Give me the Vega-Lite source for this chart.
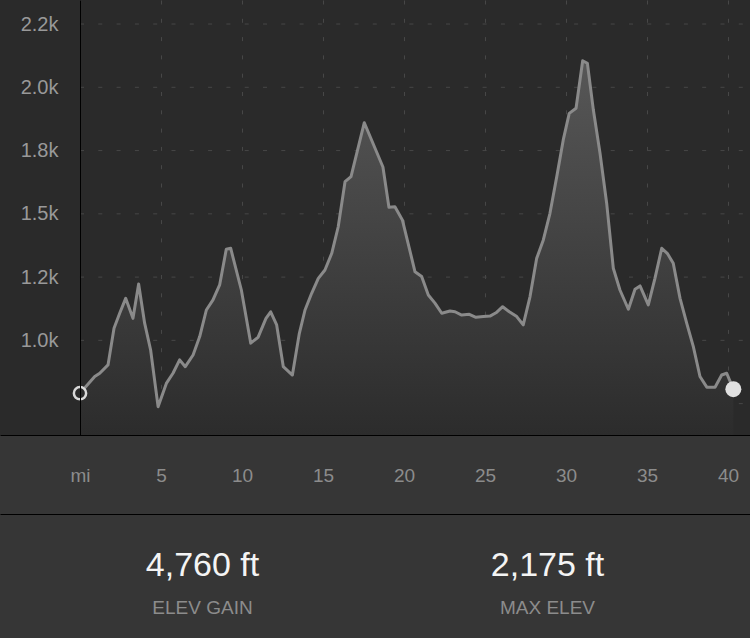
{
  "$schema": "https://vega.github.io/schema/vega-lite/v6.json",
  "autosize": {"type": "pad"},
  "padding": 0,
  "background": "#363636",
  "spacing": 0,
  "config": {"view": {"stroke": null}, "font": "Liberation Sans"},
  "datasets": {
    "profile": [
      {"mile": 0, "elev": 791}, {"mile": 0.91, "elev": 857}, {"mile": 1.22, "elev": 870}, {"mile": 1.73, "elev": 903},
      {"mile": 2.10, "elev": 1048}, {"mile": 2.45, "elev": 1107}, {"mile": 2.82, "elev": 1166}, {"mile": 3.27, "elev": 1087},
      {"mile": 3.62, "elev": 1223}, {"mile": 3.99, "elev": 1068}, {"mile": 4.36, "elev": 962}, {"mile": 4.82, "elev": 738},
      {"mile": 5.33, "elev": 830}, {"mile": 5.74, "elev": 870}, {"mile": 6.15, "elev": 923}, {"mile": 6.50, "elev": 896},
      {"mile": 6.98, "elev": 942}, {"mile": 7.39, "elev": 1015}, {"mile": 7.80, "elev": 1120}, {"mile": 8.21, "elev": 1160},
      {"mile": 8.62, "elev": 1219}, {"mile": 9.03, "elev": 1360}, {"mile": 9.30, "elev": 1364}, {"mile": 9.96, "elev": 1199},
      {"mile": 10.54, "elev": 989}, {"mile": 10.99, "elev": 1012}, {"mile": 11.48, "elev": 1087}, {"mile": 11.77, "elev": 1113},
      {"mile": 12.14, "elev": 1061}, {"mile": 12.55, "elev": 896}, {"mile": 13.11, "elev": 863}, {"mile": 13.54, "elev": 1028},
      {"mile": 13.89, "elev": 1120}, {"mile": 14.30, "elev": 1186}, {"mile": 14.71, "elev": 1245}, {"mile": 15.12, "elev": 1278},
      {"mile": 15.54, "elev": 1344}, {"mile": 15.94, "elev": 1449}, {"mile": 16.36, "elev": 1627}, {"mile": 16.73, "elev": 1647},
      {"mile": 17.55, "elev": 1860}, {"mile": 18.70, "elev": 1685}, {"mile": 19.07, "elev": 1526}, {"mile": 19.44, "elev": 1528},
      {"mile": 19.90, "elev": 1476}, {"mile": 20.68, "elev": 1271}, {"mile": 21.09, "elev": 1252}, {"mile": 21.50, "elev": 1179},
      {"mile": 21.91, "elev": 1147}, {"mile": 22.33, "elev": 1107}, {"mile": 22.84, "elev": 1116}, {"mile": 23.15, "elev": 1113},
      {"mile": 23.56, "elev": 1100}, {"mile": 24.03, "elev": 1103}, {"mile": 24.44, "elev": 1091}, {"mile": 24.90, "elev": 1094},
      {"mile": 25.31, "elev": 1096}, {"mile": 25.68, "elev": 1109}, {"mile": 26.09, "elev": 1133}, {"mile": 26.50, "elev": 1113},
      {"mile": 26.96, "elev": 1094}, {"mile": 27.36, "elev": 1061}, {"mile": 27.78, "elev": 1173}, {"mile": 28.19, "elev": 1324},
      {"mile": 28.60, "elev": 1397}, {"mile": 29.01, "elev": 1502}, {"mile": 29.43, "elev": 1647}, {"mile": 29.83, "elev": 1792},
      {"mile": 30.20, "elev": 1897}, {"mile": 30.62, "elev": 1917}, {"mile": 31.03, "elev": 2105}, {"mile": 31.32, "elev": 2095},
      {"mile": 31.69, "elev": 1910}, {"mile": 32.10, "elev": 1739}, {"mile": 32.51, "elev": 1542}, {"mile": 32.92, "elev": 1285},
      {"mile": 33.33, "elev": 1199}, {"mile": 33.85, "elev": 1123}, {"mile": 34.26, "elev": 1202}, {"mile": 34.57, "elev": 1215},
      {"mile": 35.08, "elev": 1140}, {"mile": 35.49, "elev": 1245}, {"mile": 35.91, "elev": 1364}, {"mile": 36.25, "elev": 1344},
      {"mile": 36.62, "elev": 1305}, {"mile": 37.04, "elev": 1166}, {"mile": 37.45, "elev": 1068}, {"mile": 37.86, "elev": 975},
      {"mile": 38.27, "elev": 857}, {"mile": 38.69, "elev": 815}, {"mile": 39.20, "elev": 815}, {"mile": 39.61, "elev": 863},
      {"mile": 39.92, "elev": 870}, {"mile": 40.33, "elev": 807}
    ],
    "grid": [
      {"elev": 750}, {"elev": 1000}, {"elev": 1250}, {"elev": 1500}, {"elev": 1750}, {"elev": 2000}, {"elev": 2250}
    ],
    "stats": [
      {"stat": "ELEV GAIN", "value": "4,760 ft"},
      {"stat": "MAX ELEV", "value": "2,175 ft"}
    ]
  },
  "vconcat": [
    {
      "width": 750,
      "height": 435,
      "view": {"fill": "#2a2a2a", "stroke": null},
      "layer": [
        {
          "data": {"name": "grid"},
          "mark": {"type": "rule", "color": "#474747", "strokeDash": [4, 14.3], "strokeWidth": 1},
          "encoding": {
            "y": {"field": "elev", "type": "quantitative", "scale": {"domain": [626, 2345], "nice": false, "zero": false}},
            "x": {"datum": 0, "type": "quantitative", "scale": {"domain": [-4.938, 41.358], "nice": false, "zero": false}},
            "x2": {"datum": 41.358}
          }
        },
        {
          "data": {"name": "profile"},
          "mark": {
            "type": "area",
            "line": false,
            "color": {
              "gradient": "linear", "x1": 0, "y1": 0, "x2": 0, "y2": 1,
              "stops": [{"offset": 0, "color": "#575757"}, {"offset": 1, "color": "#2c2c2c"}]
            }
          },
          "encoding": {
            "x": {
              "field": "mile", "type": "quantitative",
              "scale": {"domain": [-4.938, 41.358], "nice": false, "zero": false},
              "axis": {
                "orient": "bottom", "values": [0, 5, 10, 15, 20, 25, 30, 35, 40],
                "labelExpr": "datum.value === 0 ? 'mi' : datum.label",
                "ticks": false, "tickSize": 0, "labelPadding": 31,
                "labelColor": "#8c8c8c", "labelFontSize": 19, "labelFont": "Liberation Sans",
                "labelFlush": false, "labelOverlap": false,
                "domainColor": "#000000", "domainWidth": 1,
                "grid": true, "gridColor": "#474747", "gridDash": [4, 14.3], "gridWidth": 1,
                "title": null, "minExtent": 79, "maxExtent": 79
              }
            },
            "y": {
              "field": "elev", "type": "quantitative",
              "scale": {"domain": [626, 2345], "nice": false, "zero": false},
              "axis": {
                "orient": "left", "offset": -80,
                "values": [750, 1000, 1250, 1500, 1750, 2000, 2250],
                "labelExpr": "datum.value == 2250 ? '2.2k' : datum.value == 2000 ? '2.0k' : datum.value == 1750 ? '1.8k' : datum.value == 1500 ? '1.5k' : datum.value == 1250 ? '1.2k' : datum.value == 1000 ? '1.0k' : ''",
                "ticks": false, "tickSize": 0, "labelPadding": 22,
                "labelColor": "#999999", "labelFontSize": 20, "labelFont": "Liberation Sans",
                "labelFlush": false, "labelOverlap": false, "labelBound": false,
                "domainColor": "#000000", "domainWidth": 1,
                "grid": false, "title": null, "zindex": 1, "minExtent": 0
              }
            },
            "y2": {"datum": 626}
          }
        },
        {
          "data": {"name": "profile"},
          "mark": {"type": "line", "color": "#8a8a8a", "strokeWidth": 3, "strokeJoin": "round"},
          "encoding": {
            "x": {"field": "mile", "type": "quantitative"},
            "y": {"field": "elev", "type": "quantitative"}
          }
        },
        {
          "data": {"name": "profile"},
          "transform": [{"filter": "datum.mile == 0"}],
          "mark": {"type": "point", "filled": true, "fill": "#2b2b2b", "stroke": "#d9d9d9", "strokeWidth": 2.5, "size": 150, "opacity": 1},
          "encoding": {
            "x": {"field": "mile", "type": "quantitative"},
            "y": {"field": "elev", "type": "quantitative"}
          }
        },
        {
          "data": {"name": "profile"},
          "transform": [{"filter": "datum.mile > 40"}],
          "mark": {"type": "circle", "color": "#e0e0e0", "size": 256, "opacity": 1},
          "encoding": {
            "x": {"field": "mile", "type": "quantitative"},
            "y": {"field": "elev", "type": "quantitative"}
          }
        }
      ]
    },
    {
      "width": 750,
      "height": 124,
      "data": {"name": "stats"},
      "encoding": {
        "x": {
          "field": "stat", "type": "nominal", "sort": null,
          "scale": {"type": "point", "padding": 0.587},
          "axis": {
            "orient": "top", "labels": false, "ticks": false, "title": null,
            "domainColor": "#000000", "domainWidth": 1, "grid": false,
            "minExtent": 0, "maxExtent": 0
          }
        }
      },
      "layer": [
        {
          "mark": {"type": "text", "fontSize": 34, "color": "#f4f4f4", "baseline": "alphabetic", "font": "Liberation Sans", "dy": 0},
          "encoding": {"text": {"field": "value"}}
        },
        {
          "mark": {"type": "text", "fontSize": 19, "color": "#8c8c8c", "baseline": "alphabetic", "font": "Liberation Sans", "dy": 38},
          "encoding": {"text": {"field": "stat"}}
        }
      ]
    }
  ]
}
